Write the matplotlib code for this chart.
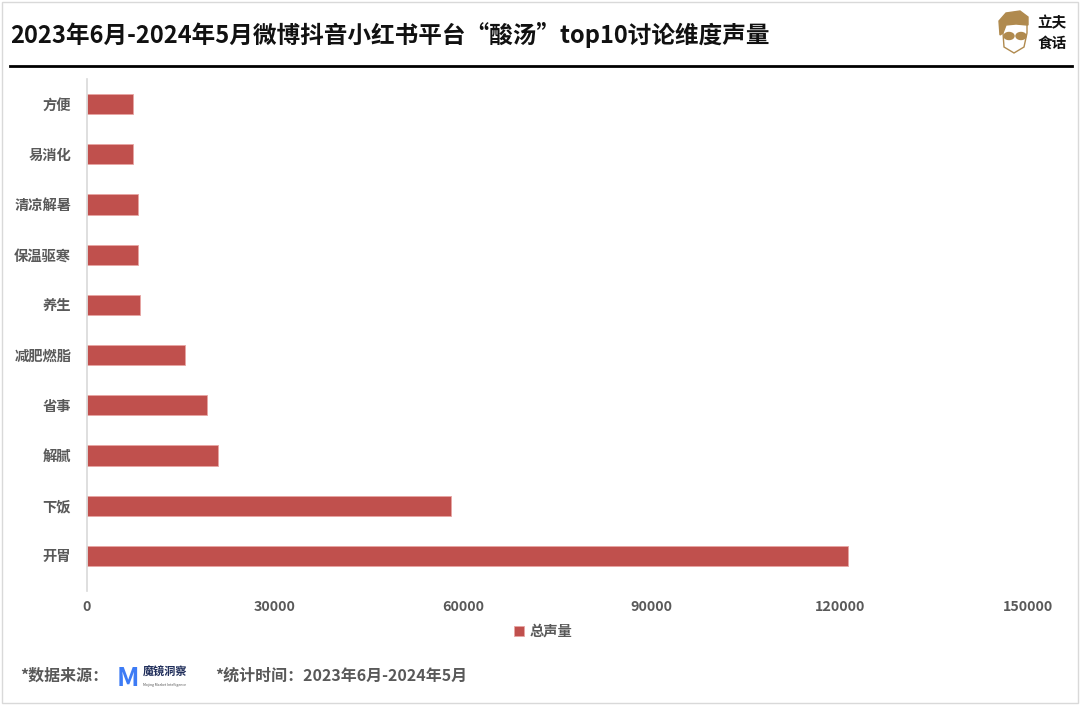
import matplotlib
matplotlib.use("Agg")
import matplotlib.pyplot as plt
from matplotlib.patches import Rectangle, Ellipse, Polygon

plt.rcParams['font.family'] = ['Noto Sans CJK SC', 'DejaVu Sans']

categories = ["方便", "易消化", "清凉解暑", "保温驱寒", "养生", "减肥燃脂", "省事", "解腻", "下饭", "开胃"]
volumes = [7350, 7450, 8150, 8250, 8470, 15630, 19220, 20980, 58000, 121400]
xticks = [0, 30000, 60000, 90000, 120000, 150000]
series_name = "总声量"
title = "2023年6月-2024年5月微博抖音小红书平台“酸汤”top10讨论维度声量"

W, H = 1080, 705
fig = plt.figure(figsize=(W / 100, H / 100), dpi=100)
fig.patch.set_facecolor("white")

# axes placed in pixel coordinates
left, right, top, bottom = 86.5, 1028, 79, 581
ax = fig.add_axes([left / W, 1 - bottom / H, (right - left) / W, (bottom - top) / H])

ypos = list(range(len(categories)))
bars = ax.barh(ypos, volumes, height=0.4, color="#C0504D", edgecolor="#E8A5A3",
               linewidth=0.6, label=series_name)
ax.set_ylim(len(categories) - 0.5, -0.5)
ax.set_xlim(0, 150000)
ax.set_yticks(ypos)
ax.set_yticklabels(categories, fontsize=10.3, fontweight="bold", color="#595959")
ax.set_xticks(xticks)
ax.set_xticklabels([str(t) for t in xticks], fontsize=10.3, fontweight="bold", color="#595959")
ax.tick_params(axis="both", length=0)
ax.tick_params(axis="y", pad=11)
ax.tick_params(axis="x", pad=14)
for s in ["top", "right", "bottom"]:
    ax.spines[s].set_visible(False)
ax.spines["left"].set_color("#D9D9D9")
ax.spines["left"].set_linewidth(1.2)
ax.spines["left"].set_bounds(len(categories) - 0.3, -0.5)

leg = fig.legend(handles=[bars], labels=[series_name], loc="center",
                 bbox_to_anchor=(543 / W, 1 - 632 / H), frameon=False,
                 handlelength=0.7, handleheight=0.7, handletextpad=0.4,
                 prop={"size": 10.3, "weight": "bold"})
for t in leg.get_texts():
    t.set_color("#595959")

# title and rule
fig.text(10 / W, 1 - 35 / H, title, fontsize=17, fontweight="bold", color="#111111",
         va="center", ha="left")
fig.add_artist(plt.Line2D([10 / W, 1072 / W], [1 - 66 / H, 1 - 66 / H], color="black", lw=2))

# brand mark top right
fig.text(1052 / W, 1 - 22 / H, "立夫", fontsize=10.5, fontweight="bold", ha="center", va="center", color="#111111")
fig.text(1052 / W, 1 - 43 / H, "食话", fontsize=10.5, fontweight="bold", ha="center", va="center", color="#111111")
lax = fig.add_axes([994 / W, 1 - 55 / H, 40 / W, 45 / H])
lax.set_xlim(0, 40)
lax.set_ylim(0, 45)
lax.axis("off")
lax.add_patch(Polygon([(6, 20), (5, 34), (12, 42), (26, 44), (34, 38), (34, 30), (22, 31), (12, 30), (9, 22)],
                      closed=True, color="#B08A4E"))
lax.add_patch(Polygon([(9, 22), (10, 8), (20, 2), (30, 8), (33, 22), (33, 30), (22, 31), (12, 30)],
                      closed=True, facecolor="white", edgecolor="#B08A4E", lw=1))
lax.add_patch(Ellipse((15, 19), 10, 7, color="#B08A4E"))
lax.add_patch(Ellipse((27, 19), 10, 7, color="#B08A4E"))

# footer
fig.text(20 / W, 1 - 676 / H, "*数据来源：", fontsize=11.5, fontweight="bold", color="#595959", va="center")
fig.text(128 / W, 1 - 678 / H, "M", fontsize=19, fontweight="bold", color="#3D7BF5", va="center", ha="center")
fig.text(143 / W, 1 - 672 / H, "魔镜洞察", fontsize=8, fontweight="bold", color="#1F2D5A", va="center")
fig.text(143 / W, 1 - 685 / H, "Mojing Market Intelligence", fontsize=2.5, color="#555555", va="center")
fig.text(215 / W, 1 - 676 / H, "*统计时间：2023年6月-2024年5月", fontsize=11.5, fontweight="bold",
         color="#595959", va="center")

# light frame
fig.add_artist(Rectangle((2 / W, 2 / H), 1 - 4 / W, 1 - 4 / H, transform=fig.transFigure,
                         fill=False, edgecolor="#D9D9D9", lw=1))

fig.savefig("out.png", dpi=100)
